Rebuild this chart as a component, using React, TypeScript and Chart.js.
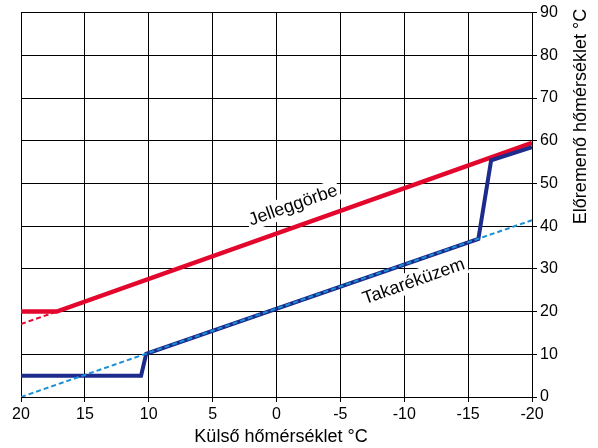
import React, { useEffect, useRef } from "react";
import { Chart, registerables } from "chart.js";

Chart.register(...registerables);

// Külső hőmérséklet (x) and előremenő hőmérséklet (y)
const redX = [20, 17.2, -20];
const redY = [20, 20, 59.5];
const redDashX = [20, 17.2];
const redDashY = [17.1, 20];
const blueX = [20, 10.6, 10.2, -15.8, -16.8, -20];
const blueY = [5, 5, 10.1, 37, 55.4, 58.5];
const lightX = [20, -20];
const lightY = [0, 41.4];

const xTicks = [20, 15, 10, 5, 0, -5, -10, -15, -20];
const yTicks = [0, 10, 20, 30, 40, 50, 60, 70, 80, 90];

const xTitle = "Külső hőmérséklet °C";
const yTitle = "Előremenő hőmérséklet °C";
const labelJ = { text: "Jelleggörbe", x: -1.3, y: 44.8 };
const labelT = { text: "Takaréküzem", x: -10.75, y: 27.0 };

const FONT = "'Liberation Sans', Arial, sans-serif";

const toPts = (xs: number[], ys: number[]) => xs.map((x, i) => ({ x, y: ys[i] }));

export default function App() {
  const ref = useRef<HTMLCanvasElement | null>(null);
  useEffect(() => {
    document.body.style.margin = "0";
    const canvas = ref.current!;
    const textPlugin = {
      id: "texts",
      beforeDatasetsDraw(chart: any) {
        const ctx = chart.ctx;
        const xs = chart.scales.x;
        const ys = chart.scales.y;
        const drawLbl = (l: { text: string; x: number; y: number }) => {
          const px = xs.getPixelForValue(l.x);
          const py = ys.getPixelForValue(l.y);
          ctx.save();
          ctx.translate(px, py);
          ctx.rotate((-19.5 * Math.PI) / 180);
          ctx.font = `18px ${FONT}`;
          const w = ctx.measureText(l.text).width;
          ctx.fillStyle = "#fff";
          ctx.fillRect(-w / 2 - 2, -11, w + 4, 21);
          ctx.fillStyle = "#000";
          ctx.textAlign = "center";
          ctx.textBaseline = "middle";
          ctx.fillText(l.text, 0, 0);
          ctx.restore();
        };
        drawLbl(labelJ);
        drawLbl(labelT);
      },
      afterDraw(chart: any) {
        const ctx = chart.ctx;
        ctx.save();
        ctx.font = `18px ${FONT}`;
        ctx.fillStyle = "#000";
        ctx.textAlign = "center";
        ctx.textBaseline = "alphabetic";
        ctx.fillText(xTitle, 281, 442);
        ctx.translate(586, 116.5);
        ctx.rotate(-Math.PI / 2);
        ctx.fillText(yTitle, 0, 0);
        ctx.restore();
      },
    };
    const chart = new Chart(canvas, {
      type: "scatter",
      data: {
        datasets: [
          {
            data: toPts(lightX, lightY),
            showLine: true,
            borderColor: "#1a8fd6",
            borderWidth: 2,
            borderDash: [5, 3],
            pointRadius: 0,
            order: 0,
          },
          {
            data: toPts(blueX, blueY),
            showLine: true,
            borderColor: "#1c2b8c",
            borderWidth: 4,
            pointRadius: 0,
            order: 1,
          },
          {
            data: toPts(redDashX, redDashY),
            showLine: true,
            borderColor: "#e3062d",
            borderWidth: 2,
            borderDash: [5, 3],
            pointRadius: 0,
            order: 3,
          },
          {
            data: toPts(redX, redY),
            showLine: true,
            borderColor: "#e3062d",
            borderWidth: 4.5,
            pointRadius: 0,
            order: 2,
          },
        ],
      },
      options: {
        animation: false,
        responsive: false,
        layout: { padding: { left: 21, top: 12, right: 0, bottom: 0 } },
        plugins: { legend: { display: false }, tooltip: { enabled: false } },
        scales: {
          x: {
            type: "linear",
            min: -20,
            max: 20,
            reverse: true,
            afterFit: (s: any) => {
              s.height = 51;
            },
            afterBuildTicks: (s: any) => {
              s.ticks = xTicks.map((v) => ({ value: v }));
            },
            ticks: {
              color: "#000",
              font: { family: FONT, size: 16 },
              padding: 3,
              maxRotation: 0,
              callback: (v: any) => String(v),
            },
            grid: { color: "#000", lineWidth: 1, tickLength: 5 },
            border: { color: "#000", width: 1 },
          },
          y: {
            type: "linear",
            position: "right",
            min: 0,
            max: 90,
            afterFit: (s: any) => {
              s.width = 66;
            },
            afterBuildTicks: (s: any) => {
              s.ticks = yTicks.map((v) => ({ value: v }));
            },
            ticks: {
              color: "#000",
              font: { family: FONT, size: 16 },
              padding: 3,
              callback: (v: any) => String(v),
            },
            grid: { color: "#000", lineWidth: 1, tickLength: 5 },
            border: { color: "#000", width: 1 },
          },
        },
      },
      plugins: [textPlugin],
    });
    return () => chart.destroy();
  }, []);
  return <canvas ref={ref} width={598} height={448} style={{ display: "block" }} />;
}
